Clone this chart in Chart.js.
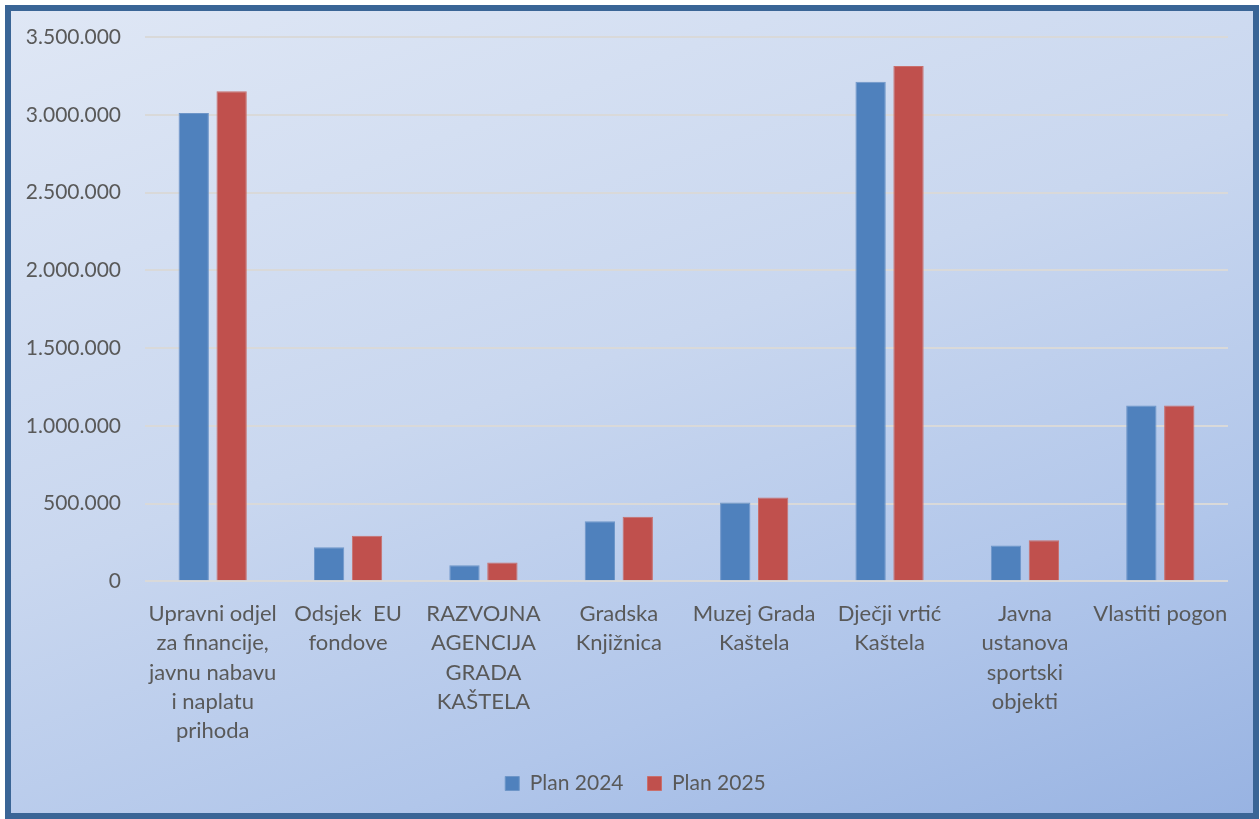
<!DOCTYPE html>
<html>
<head>
<meta charset="utf-8">
<script src="https://cdn.jsdelivr.net/npm/chart.js@4"></script>
<style>
    html, body { margin: 0; padding: 0; width: 1260px; height: 819px; overflow: hidden; background: #ffffff; }
    #frame {
        position: absolute; left: 5px; top: 5px; width: 1254px; height: 814px;
        box-sizing: border-box; border: 6px solid #3a6596;
        background: linear-gradient(160deg, #dfe7f5 0%, #c9d7ef 45%, #b1c6ea 75%, #98b3e2 100%);
    }
    #wrap { position: absolute; left: 0; top: 0; width: 1242px; height: 802px; }
</style>
</head>
<body>
<div id="frame"><div id="wrap"><canvas id="chart"></canvas></div></div>
<script>
const categories = [
    ['Upravni odjel', 'za financije,', 'javnu nabavu', 'i naplatu', 'prihoda'],
    ['Odsjek  EU', 'fondove'],
    ['RAZVOJNA', 'AGENCIJA', 'GRADA', 'KAŠTELA'],
    ['Gradska', 'Knjižnica'],
    ['Muzej Grada', 'Kaštela'],
    ['Dječji vrtić', 'Kaštela'],
    ['Javna', 'ustanova', 'sportski', 'objekti'],
    ['Vlastiti pogon']
];
const plan2024 = [3011000, 219000, 103000, 386000, 507000, 3212000, 230000, 1131000];
const plan2025 = [3152000, 294000, 122000, 415000, 539000, 3313000, 264000, 1131000];

const fontFamily = 'Lato, "Open Sans", sans-serif';
const textColor = '#595959';

function fmt(v) {
    return String(v).replace(/\B(?=(\d{3})+(?!\d))/g, '.');
}

// legend in the original sits centred on the whole frame, not on the padded area
const legendShift = {
    id: 'legendShift',
    afterLayout(chart) {
        chart.legend.left += 16;
        chart.legend.right += 16;
    }
};

document.addEventListener('DOMContentLoaded', function() {
    const ctx = document.getElementById('chart').getContext('2d');
    new Chart(ctx, {
        type: 'bar',
        data: {
            labels: categories,
            datasets: [
                { label: 'Plan 2024', data: plan2024, backgroundColor: '#4f81bd', borderColor: '#6d95c8', borderWidth: 1 },
                { label: 'Plan 2025', data: plan2025, backgroundColor: '#c0504d', borderColor: '#c96f6c', borderWidth: 1 }
            ]
        },
        plugins: [legendShift],
        options: {
            responsive: true,
            maintainAspectRatio: false,
            animation: false,
            categoryPercentage: 0.56,
            barPercentage: 0.8,
            layout: { padding: { top: 26, right: 25, bottom: 9, left: 0 } },
            plugins: {
                tooltip: { enabled: false },
                legend: {
                    position: 'bottom',
                    labels: {
                        color: textColor,
                        font: { family: fontFamily, size: 21 },
                        boxWidth: 14,
                        boxHeight: 14,
                        padding: 24
                    }
                }
            },
            scales: {
                x: {
                    afterFit: function(scale) { scale.height -= 15; },
                    grid: { display: false, drawTicks: false },
                    border: { display: false },
                    ticks: {
                        color: textColor,
                        font: { family: fontFamily, size: 22, lineHeight: 1.333 },
                        padding: 18,
                        maxRotation: 0,
                        autoSkip: false
                    }
                },
                y: {
                    min: 0,
                    max: 3500000,
                    afterFit: function(scale) {
                        scale.width = 134;
                        scale.paddingTop = 10;
                    },
                    grid: { color: '#d9d9d9', lineWidth: 2, drawTicks: false },
                    border: { display: false },
                    ticks: {
                        stepSize: 500000,
                        color: textColor,
                        font: { family: fontFamily, size: 21 },
                        padding: 24,
                        callback: function(v) { return fmt(v); }
                    }
                }
            }
        }
    });
});
</script>
</body>
</html>
